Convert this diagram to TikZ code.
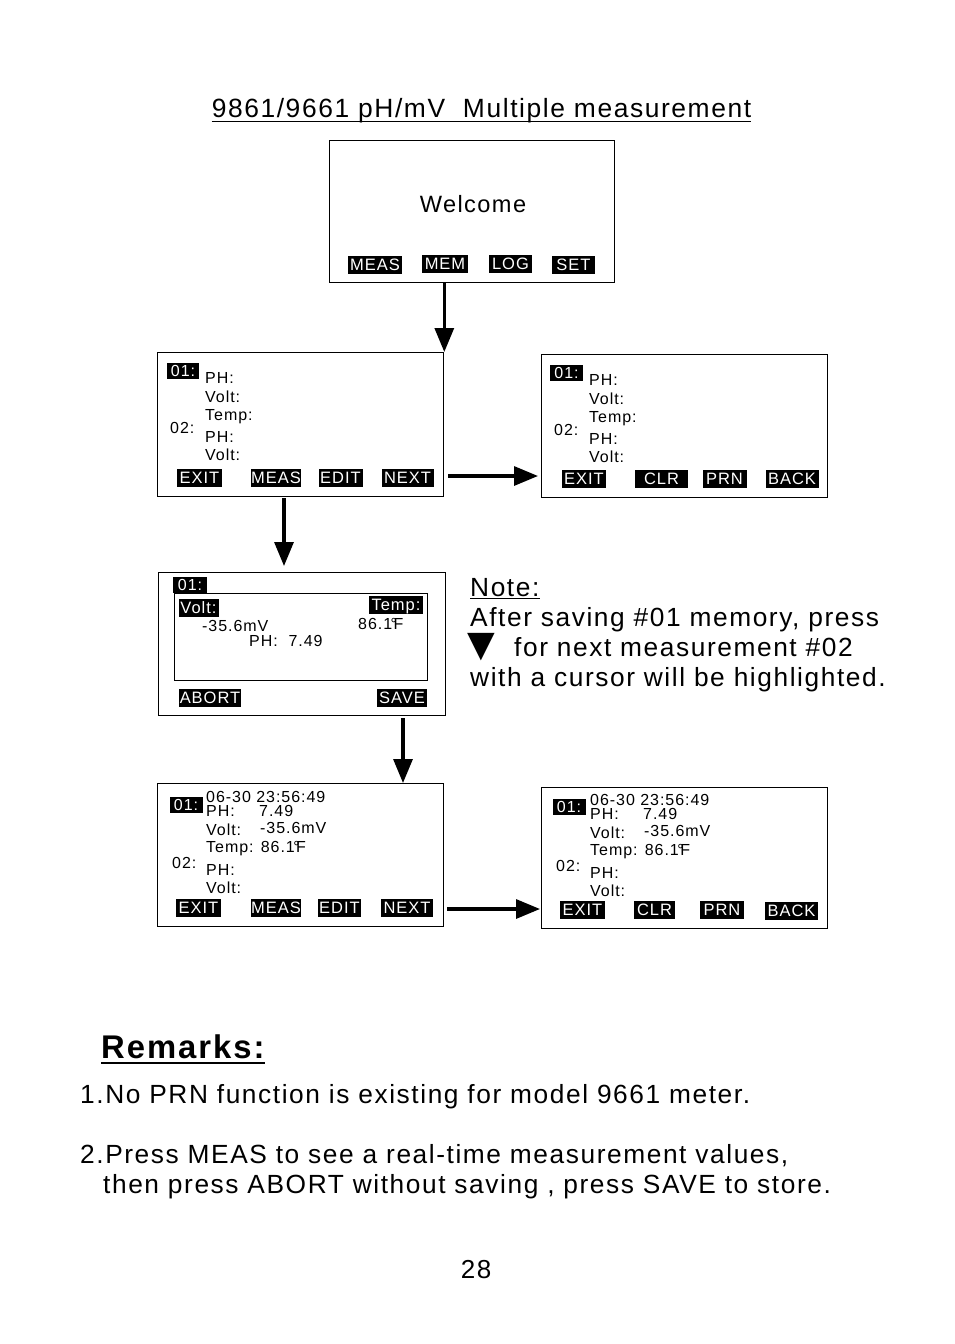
\documentclass[tikz,border=0pt]{standalone}
\usepackage{fontspec}
\setmainfont{Liberation Sans}[LetterSpace=6]
\newfontfamily\symfont{DejaVu Sans}
\usetikzlibrary{arrows.meta}
\newcommand\fsz[1]{\fontsize{#1}{#1}\selectfont}
\newcommand\degF{86.1{\kern-1.5pt}°{\kern-3.5pt}F}
\begin{document}
\begin{tikzpicture}[x=1pt,y=-1pt,
  panel/.style={draw,line width=1.3pt,anchor=north west,inner sep=0pt},
  btn/.style={fill=black,text=white,font=\fsz{16.5},inner xsep=0pt,inner ysep=0pt,
    minimum width=#1,minimum height=18pt,text height=11.8pt,text depth=0pt},
  tag/.style={fill=black,text=white,font=\fsz{16},inner xsep=0pt,inner ysep=0pt,
    minimum width=#1,minimum height=16pt,text height=11.4pt,text depth=0pt},
  lbl/.style={font=\fsz{16},anchor=base west,inner sep=0pt},
  big/.style={font=\fsz{26.3},anchor=base west,inner sep=0pt},
  arr/.style={line width=3.2pt,-{Triangle[length=24pt,width=19pt]}},
  uline/.style={line width=1.3pt}]
\useasboundingbox (0,0) rectangle (954,1344);

% title
\node[font=\fsz{26.4},anchor=base,inner sep=0pt] (title) at (481.5,117) {9861/9661 pH/mV\ \ Multiple measurement};
\draw[uline] ([yshift=-4.5pt]title.base west) -- ([yshift=-4.5pt]title.base east);

% welcome panel
\node[panel,minimum width=285pt,minimum height=142pt] (w) at (329,140) {};
\node[font=\fsz{23.6},anchor=base,inner sep=0pt] (wt) at (473,212) {Welcome};
\node[btn=54pt] (wmeas) at (375,265) {MEAS};
\node[btn=46pt] (wmem) at (445,263.5) {MEM};
\node[btn=43pt] (wlog) at (510.5,264) {LOG};
\node[btn=43pt] (wset) at (573.5,265) {SET};

% panel 2
\node[panel,minimum width=286pt,minimum height=144pt] (b2) at (157,352) {};
\node[tag=32pt] (b2t1) at (183,370.5) {01:};
\node[lbl] (b2l1) at (205,383) {PH:};
\node[lbl] (b2l2) at (205,402) {Volt:};
\node[lbl] (b2l3) at (205,420) {Temp:};
\node[lbl] (b2t2) at (170,433) {02:};
\node[lbl] (b2l4) at (205,442) {PH:};
\node[lbl] (b2l5) at (205,460) {Volt:};
\node[btn=45pt] (b2exit) at (199.5,477.5) {EXIT};
\node[btn=50pt] (b2meas) at (276,477.5) {MEAS};
\node[btn=44pt] (b2edit) at (340.5,477.5) {EDIT};
\node[btn=52pt] (b2next) at (407.5,477.5) {NEXT};

% panel 3
\node[panel,minimum width=286pt,minimum height=143pt] (b3) at (541,354) {};
\node[tag=33pt] (b3t1) at (566.5,372.5) {01:};
\node[lbl] (b3l1) at (589,385) {PH:};
\node[lbl] (b3l2) at (589,404) {Volt:};
\node[lbl] (b3l3) at (589,422) {Temp:};
\node[lbl] (b3t2) at (554,435) {02:};
\node[lbl] (b3l4) at (589,444) {PH:};
\node[lbl] (b3l5) at (589,462) {Volt:};
\node[btn=44pt] (b3exit) at (584,479) {EXIT};
\node[btn=53pt] (b3clr) at (661.5,479) {CLR};
\node[btn=44pt] (b3prn) at (724.5,479) {PRN};
\node[btn=53pt] (b3back) at (792,479) {BACK};

% panel 4
\node[panel,minimum width=287pt,minimum height=143pt] (b4) at (158,572) {};
\node[tag=34pt] (b4t1) at (190,585) {01:};
\node[draw,line width=1.3pt,anchor=north west,inner sep=0pt,minimum width=253pt,minimum height=87pt] (b4in) at (174,593) {};
\node[btn=40pt] (b4volt) at (198.5,608) {Volt:};
\node[btn=54pt] (b4temp) at (396,605) {Temp:};
\node[lbl] (b4v) at (202,631) {-35.6mV};
\node[lbl] (b4tv) at (358,629) {\degF};
\node[lbl] (b4ph) at (249,646) {PH:\ \ 7.49};
\node[btn=62pt] (b4abort) at (210,697.5) {ABORT};
\node[btn=50pt] (b4save) at (402,697.5) {SAVE};

% panel 5
\node[panel,minimum width=286pt,minimum height=143pt] (b5) at (157,783) {};
\node[tag=33pt] (b5t1) at (186,805) {01:};
\node[lbl] (b5d) at (206,802) {06-30 23:56:49};
\node[lbl] (b5l1) at (206,816) {PH:};
\node[lbl] (b5v1) at (259,816) {7.49};
\node[lbl] (b5l2) at (206,835) {Volt:};
\node[lbl] (b5v2) at (260,833) {-35.6mV};
\node[lbl] (b5l3) at (206,852) {Temp: \degF};
\node[lbl] (b5t2) at (172,868) {02:};
\node[lbl] (b5l4) at (206,875) {PH:};
\node[lbl] (b5l5) at (206,893) {Volt:};
\node[btn=45pt] (b5exit) at (198.5,907.5) {EXIT};
\node[btn=50pt] (b5meas) at (276,907.5) {MEAS};
\node[btn=43pt] (b5edit) at (339.5,907.5) {EDIT};
\node[btn=52pt] (b5next) at (407,908) {NEXT};

% panel 6
\node[panel,minimum width=286pt,minimum height=141pt] (b6) at (541,787) {};
\node[tag=33pt] (b6t1) at (569,807) {01:};
\node[lbl] (b6d) at (590,805) {06-30 23:56:49};
\node[lbl] (b6l1) at (590,819) {PH:};
\node[lbl] (b6v1) at (643,819) {7.49};
\node[lbl] (b6l2) at (590,838) {Volt:};
\node[lbl] (b6v2) at (644,836) {-35.6mV};
\node[lbl] (b6l3) at (590,855) {Temp: \degF};
\node[lbl] (b6t2) at (556,871) {02:};
\node[lbl] (b6l4) at (590,878) {PH:};
\node[lbl] (b6l5) at (590,896) {Volt:};
\node[btn=45pt] (b6exit) at (582.5,910) {EXIT};
\node[btn=41pt] (b6clr) at (654.5,910) {CLR};
\node[btn=44pt] (b6prn) at (722,910) {PRN};
\node[btn=53pt] (b6back) at (791.5,910.5) {BACK};

% arrows
\draw[arr] (w.south -| b2.north east) -- (b2.north east);
\coordinate (a2s) at (448,476);
\draw[arr,shorten >=3pt] (a2s) -- (b3.west |- a2s);
\coordinate (a3s) at (284,498);
\draw[arr,shorten >=6pt] (a3s) -- (b4.north -| a3s);
\coordinate (a4s) at (403,718);
\draw[arr] (a4s) -- (b5.north -| a4s);
\coordinate (a5s) at (447,909);
\draw[arr,shorten >=1pt] (a5s) -- (b6.west |- a5s);

% note
\node[big] (note) at (470,596) {Note:};
\draw[uline] ([yshift=-2.5pt]note.base west) -- ([yshift=-2.5pt]note.base east);
\node[big] (n1) at (470,626) {After saving \#01 memory, press};
\node[font=\symfont\fsz{36},anchor=base west,inner sep=0pt] (tri) at (467,656) {▼};
\node[big] (n2) at (514,656) {for next measurement \#02};
\node[big] (n3) at (470,686) {with a cursor will be highlighted.};

% remarks
\node[font=\bfseries\fsz{32.8},anchor=base west,inner sep=0pt] (rem) at (101,1058) {Remarks:};
\draw[line width=2pt] ([yshift=-5pt]rem.base west) -- ([yshift=-5pt]rem.base east);
\node[big] (r1) at (80,1103) {1.No PRN function is existing for model 9661 meter.};
\node[big] (r2) at (80,1163) {2.Press MEAS to see a real-time measurement values,};
\node[big] (r3) at (103,1193) {then press ABORT without saving , press SAVE to store.};
\node[font=\fsz{26},anchor=base,inner sep=0pt] (pg) at (476,1278) {28};
\end{tikzpicture}
\end{document}
